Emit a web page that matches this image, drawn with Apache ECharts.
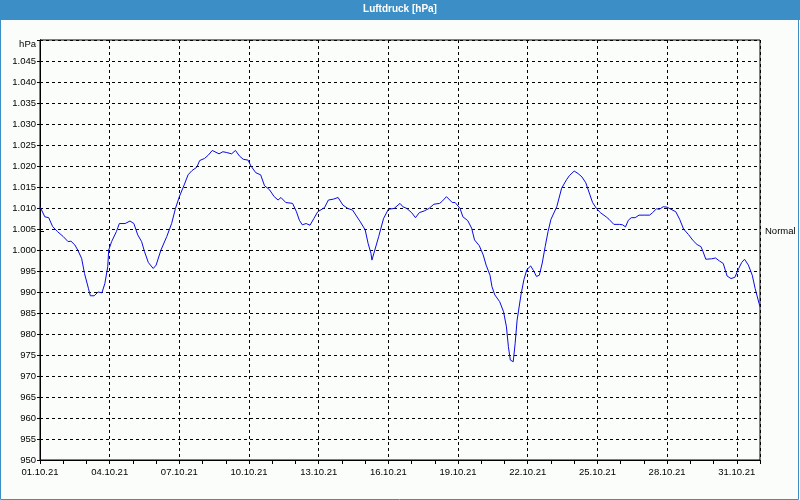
<!DOCTYPE html>
<html>
<head>
<meta charset="utf-8">
<script src="https://cdn.jsdelivr.net/npm/echarts@6/dist/echarts.min.js"></script>
<style>
html,body{margin:0;padding:0;background:#fbfdfb;}
#chart{width:800px;height:500px;}
</style>
</head>
<body>
<div id="chart"></div>
<script>
// Hours since 01.10.2021 00:00
const hours = [0,5,9,13,18,24,29,32,36,39,43,46,50,52,56,60,64,67,70,71,74,79,82,88,93,97,101,105,108,112,117,120,125,131,136,140,144,149,153,157,162,165,170,174,178,180,185,189,193,198,202,206,210,215,218,223,228,232,237,242,246,249,254,261,265,268,271,275,279,283,287,294,298,303,308,313,318,323,327,331,336,339,342,343,346,350,355,360,366,372,375,379,384,388,392,397,402,407,413,416,420,422,426,429,434,437,442,446,449,454,458,461,465,467,470,475,479,482,484,486,489,491,493,497,500,503,507,510,513,516,519,522,525,528,534,539,544,547,552,556,560,564,568,571,575,579,585,588,593,599,602,605,608,611,615,619,625,630,633,637,640,644,648,652,657,661,665,670,675,679,683,685,688,694,698,702,706,710,714,718,722,725,728,732,736,739,743,744];
// Air pressure in hPa
const pressure = [1010.3,1007.9,1007.7,1005.6,1004.4,1003.2,1002.0,1002.1,1001.2,1000.0,998.0,994.4,990.9,989.1,989.1,990.0,989.8,992.0,996.0,1000.0,1002.0,1004.4,1006.3,1006.3,1006.9,1006.3,1003.6,1002.0,999.6,997.0,995.6,996.4,1000.0,1003.2,1006.3,1009.9,1012.7,1015.5,1017.9,1018.9,1019.7,1021.3,1021.8,1022.6,1023.7,1023.7,1022.9,1023.4,1023.2,1022.9,1023.7,1022.4,1021.6,1021.4,1020.0,1018.4,1017.9,1015.3,1014.4,1012.7,1011.9,1012.5,1011.3,1011.1,1009.1,1007.1,1006.0,1006.3,1005.9,1007.5,1009.1,1010.1,1011.9,1012.1,1012.5,1010.7,1009.9,1009.5,1008.1,1006.7,1004.8,1001.6,999.2,997.6,1000.0,1003.2,1007.5,1009.7,1009.9,1011.1,1010.3,1009.9,1008.9,1007.7,1008.9,1009.3,1009.9,1010.9,1011.1,1011.7,1012.7,1012.3,1011.3,1011.3,1009.9,1007.9,1007.0,1005.2,1002.4,1001.0,998.8,996.4,994.0,991.3,989.3,987.7,985.3,981.7,977.0,973.8,973.4,977.8,983.3,989.3,992.9,995.3,996.2,995.1,993.7,994.0,996.9,1000.8,1004.4,1007.3,1010.3,1014.7,1016.7,1017.7,1018.8,1018.2,1017.4,1016.0,1013.3,1011.3,1009.9,1008.9,1007.9,1007.3,1006.1,1006.1,1006.0,1005.5,1007.1,1007.7,1007.7,1008.3,1008.3,1008.3,1008.9,1009.8,1009.7,1010.3,1010.2,1009.7,1009.1,1007.3,1005.0,1003.7,1002.2,1001.3,1000.8,999.7,997.8,997.9,998.1,997.4,996.8,993.8,993.2,993.5,995.6,997.0,997.8,996.4,994.0,990.8,987.3,986.5];
const normalValue = [1004.5];
const normalLabel = 'Normal';
const titleText = 'Luftdruck [hPa]';
const unitLabel = 'hPa';
const startUTC = Date.UTC(2021, 9, 1);

function fmtDate(h) {
  const d = new Date(startUTC + h * 3600000);
  const p = n => String(n).padStart(2, '0');
  return p(d.getUTCDate()) + '.' + p(d.getUTCMonth() + 1) + '.' + String(d.getUTCFullYear()).slice(2);
}
function fmtP(v) {
  if (v >= 1050) return '{u|' + unitLabel + '}';
  if (v >= 1000) return '1.' + String(Math.round(v - 1000)).padStart(3, '0');
  return String(Math.round(v));
}

const chart = echarts.init(document.getElementById('chart'), null, {renderer: 'canvas'});
const font = 'Liberation Sans';
const blue = '#3c8fc6';
chart.setOption({
  backgroundColor: '#fbfdfb',
  animation: false,
  textStyle: {fontFamily: font},
  graphic: [
    {type: 'rect', z: 0, silent: true, shape: {x: 0, y: 0, width: 800, height: 20}, style: {fill: blue}},
    {type: 'rect', z: 0, silent: true, shape: {x: 0.5, y: 0.5, width: 798, height: 499}, style: {fill: null, stroke: blue, lineWidth: 1}}
  ],
  title: {
    text: titleText, left: 'center', top: 4, z: 10, padding: 0,
    textStyle: {color: '#ffffff', fontFamily: font, fontWeight: 'bold', fontSize: 10}
  },
  grid: {left: 40, right: 40, top: 40, bottom: 40, show: true, borderColor: '#000', borderWidth: 1, backgroundColor: 'transparent', outerBoundsMode: 'none', containLabel: false},
  xAxis: [
    {
      type: 'value', min: 0, max: 744, interval: 72, position: 'bottom',
      axisLine: {show: true, lineStyle: {color: '#000', width: 1}},
      axisTick: {show: true, length: 4, lineStyle: {color: '#000'}},
      axisLabel: {show: true, margin: 7, showMaxLabel: false, color: '#000', fontFamily: font, fontSize: 9.5, formatter: fmtDate},
      splitLine: {show: true, lineStyle: {color: '#000', width: 1, type: [3, 3]}}
    },
    {
      type: 'value', min: 0, max: 744, interval: 24, position: 'bottom',
      axisLine: {show: false},
      axisTick: {show: true, length: 4, lineStyle: {color: '#000'}},
      axisLabel: {show: false},
      splitLine: {show: false}
    }
  ],
  yAxis: [
    {
      type: 'value', min: 950, max: 1050, interval: 5, position: 'left',
      axisLine: {show: true, lineStyle: {color: '#000', width: 1}},
      axisTick: {show: true, length: 3, lineStyle: {color: '#000'}},
      axisLabel: {show: true, margin: 4, color: '#000', fontFamily: font, fontSize: 9.5, formatter: fmtP,
        rich: {u: {padding: [9, 0, 0, 0], fontFamily: font, fontSize: 9.5, color: '#000'}}},
      splitLine: {show: true, lineStyle: {color: '#000', width: 1, type: [3, 3]}}
    },
    {
      type: 'value', min: 950, max: 1050, position: 'right',
      axisLine: {show: true, lineStyle: {color: '#000', width: 1}},
      axisTick: {show: true, length: 4, customValues: normalValue, lineStyle: {color: '#000'}},
      axisLabel: {show: true, margin: 5, customValues: normalValue, color: '#000', fontFamily: font, fontSize: 9.5, formatter: () => normalLabel},
      splitLine: {show: false}
    }
  ],
  series: [{
    type: 'line', xAxisIndex: 0, yAxisIndex: 0,
    data: hours.map((h, i) => [h, pressure[i]]),
    showSymbol: false, symbol: 'none',
    lineStyle: {color: '#0a0ae6', width: 1},
    clip: true
  }]
});
</script>
</body>
</html>
